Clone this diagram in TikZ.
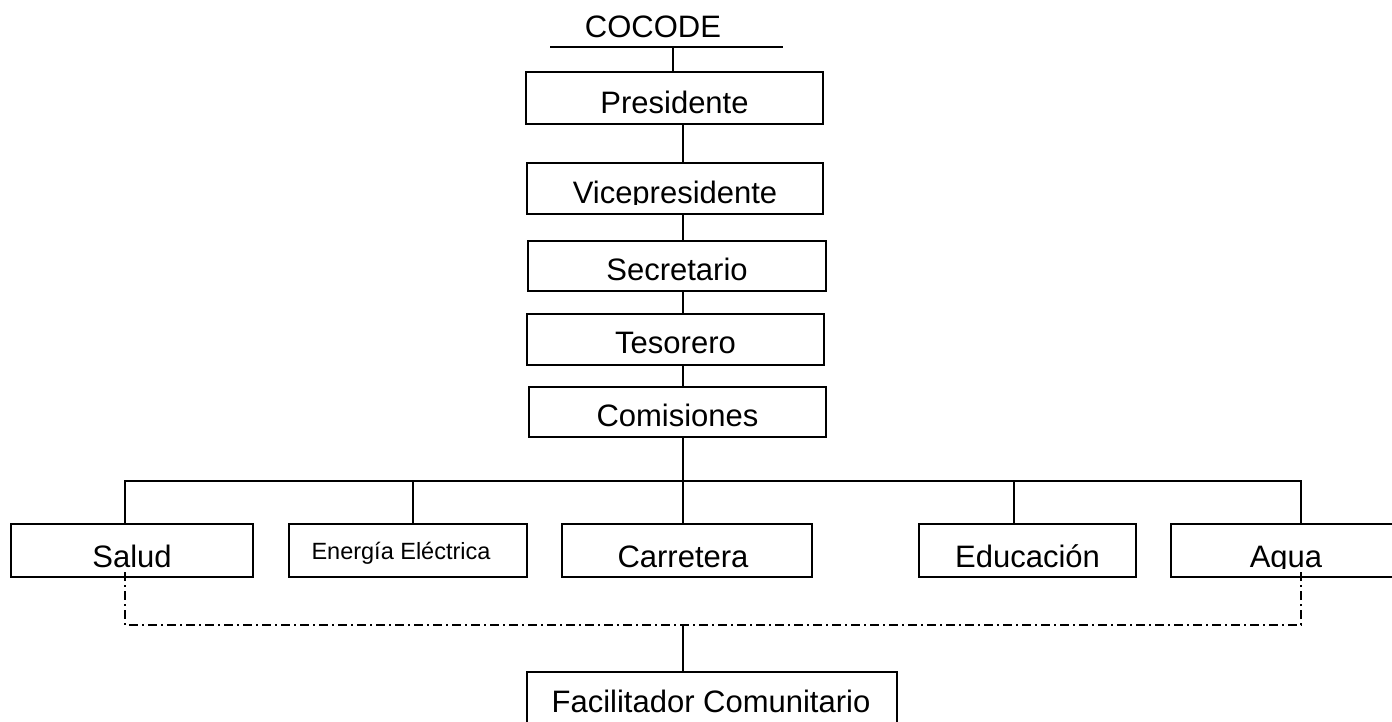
\documentclass[tikz,border=0pt]{standalone}
\usepackage{fontspec}
\setmainfont{Liberation Sans}
\begin{document}
\begin{tikzpicture}[x=1pt,y=-1pt,
  box/.style={draw=black, line width=1.6pt, rectangle, inner sep=0pt},
  lbl/.style={inner sep=0pt, anchor=base, font=\fontsize{31}{36}\selectfont},
  small/.style={inner sep=0pt, anchor=base, font=\fontsize{23.5}{28}\selectfont},
  link/.style={draw=black, line width=1.6pt},
  dashdot/.style={draw=black, line width=1.4pt, dash pattern=on 9pt off 4pt on 2pt off 4pt}]
\useasboundingbox (0,0) rectangle (1392,721);
\clip (0,0) rectangle (1392,721);
\fill[white] (0,0) rectangle (1392,721);

% spine coordinates
\coordinate (spine) at (683,0);
\coordinate (d1) at (125,0);
\coordinate (d2) at (413,0);
\coordinate (d3) at (683,0);
\coordinate (d4) at (1014,0);
\coordinate (d5) at (1301,0);

% COCODE title with rule
\node[lbl] (cocode) at (653,37) {COCODE};
\coordinate (ruleL) at (550,47);
\coordinate (ruleR) at (783,47);
\coordinate (ruleM) at (673,47);
\draw[link] (ruleL) -- (ruleR);

% vertical chain of boxes
\node[box, minimum width=297pt, minimum height=52pt] (pres) at (674.5,98) {};
\node[lbl] (tpres) at (674.5,113) {Presidente};

\node[box, minimum width=296pt, minimum height=51pt] (vice) at (675,188.5) {};
\begin{scope}
  \clip (527,163) rectangle (823,204);
  \node[lbl] (tvice) at (675,203) {Vicepresidente};
\end{scope}

\node[box, minimum width=298pt, minimum height=50pt] (sec) at (677,266) {};
\node[lbl] (tsec) at (677,280) {Secretario};

\node[box, minimum width=297pt, minimum height=51pt] (tes) at (675.5,339.5) {};
\node[lbl] (ttes) at (675.5,353) {Tesorero};

\node[box, minimum width=297pt, minimum height=50pt] (com) at (677.5,412) {};
\node[lbl] (tcom) at (677.5,426) {Comisiones};

\draw[link] (ruleM) -- (pres.north -| ruleM);
\draw[link] (pres.south -| spine) -- (vice.north -| spine);
\draw[link] (vice.south -| spine) -- (sec.north -| spine);
\draw[link] (sec.south -| spine) -- (tes.north -| spine);
\draw[link] (tes.south -| spine) -- (com.north -| spine);

% branch bar
\coordinate (bar) at (683,481);
\draw[link] (com.south -| spine) -- (bar);

% bottom row
\node[box, minimum width=242pt, minimum height=53pt] (salud) at (132,550.5) {};
\node[lbl] (tsalud) at (132,567) {Salud};

\node[box, minimum width=238pt, minimum height=53pt] (ener) at (408,550.5) {};
\node[small] (tener) at (401,559) {Energía Eléctrica};

\node[box, minimum width=250pt, minimum height=53pt] (carr) at (687,550.5) {};
\node[lbl] (tcarr) at (683,567) {Carretera};

\node[box, minimum width=217pt, minimum height=53pt] (educ) at (1027.5,550.5) {};
\node[lbl] (teduc) at (1027.5,567) {Educación};

\node[box, minimum width=232pt, minimum height=53pt] (agua) at (1287,550.5) {};
\begin{scope}
  \clip (1171,524) rectangle (1400,568);
  \node[lbl] (tagua) at (1286,567) {Agua};
\end{scope}

\draw[link] (salud.north -| d1) -- (d1 |- bar) -- (d5 |- bar) -- (agua.north -| d5);
\draw[link] (bar) -- (carr.north -| d3);
\draw[link] (ener.north -| d2) -- (d2 |- bar);
\draw[link] (educ.north -| d4) -- (d4 |- bar);

% dash-dot link
\coordinate (dl) at (125,572);
\coordinate (dr) at (1301,572);
\coordinate (dmid) at (683,625);
\draw[dashdot] (dl) -- (125,625) -- (1301,625) -- (dr);

% facilitator
\node[box, minimum width=370pt, minimum height=68pt] (fac) at (712,706) {};
\node[lbl] (tfac) at (711,712) {Facilitador Comunitario};
\draw[link] (dmid) -- (fac.north -| dmid);
\end{tikzpicture}
\end{document}
